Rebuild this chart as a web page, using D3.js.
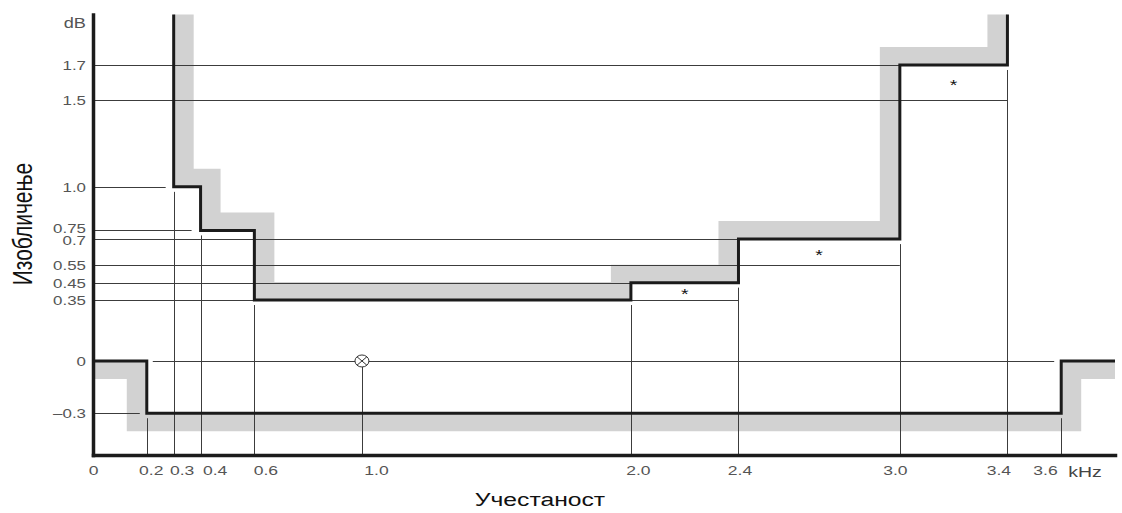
<!DOCTYPE html>
<html><head><meta charset="utf-8">
<script src="https://cdn.jsdelivr.net/npm/d3@7"></script>
<style>body{margin:0;background:#fff}svg text{font-family:"Liberation Sans",Arial,Helvetica,sans-serif}</style>
</head><body><svg id="c" width="1122" height="513"></svg>
<script>
// ---- data ----
const xTicks=[0,0.2,0.3,0.4,0.6,1.0,2.0,2.4,3.0,3.4,3.6];
const xTickLabels=["0","0.2","0.3","0.4","0.6","1.0","2.0","2.4","3.0","3.4","3.6"];
const yTicks=[1.7,1.5,1.0,0.75,0.7,0.55,0.45,0.35,0,-0.3];
const yTickLabels=["1.7","1.5","1.0","0.75","0.7","0.55","0.45","0.35","0","–0.3"];
const xDomain=[0,3.8];
const yDomain=[-0.54,1.99];
// upper mask (distortion limit above)
const upperEdges=[0.3,0.4,0.6,2.0,2.4,3.0,3.4];
const upperLevels=[1.0,0.75,0.35,0.45,0.7,1.7];
// lower mask
const lowerEdges=[0.2,3.6];
const lowerLevels=[0,-0.3,0];
// thin reference lines
const hLineLevels=[1.7,1.5,1.0,0.75,0.7,0.55,0.45,0.35,0,-0.3];
const hLineFrom=[0,0,0,0,0,0,0,0,0.2,0];
const hLineTo=[3.0,3.4,0.3,0.4,2.4,3.0,2.0,2.4,3.6,0.2];
const vLineFreqs=[0.2,0.3,0.4,0.6,1.0,2.0,2.4,3.0,3.4,3.6];
const vLineFrom=[-0.3,1.0,0.75,0.35,0,0.35,0.45,0.7,1.7,-0.3];
const refPoint=[1.0,0];
// boxes marked with *
const starFrom=[2.0,2.4,3.0], starTo=[2.4,3.0,3.4];
const starLow=[0.35,0.55,1.5], starHigh=[0.45,0.7,1.7];
const xTitle="Учестаност", yTitle="Изобличење", yUnit="dB", xUnit="kHz";

// ---- style ----
const SX=1.3, DX=20, DY=18;
const gray="#d2d2d2", ink="#1b1b1b", thin="#3c3c3c", lab="#555";
const hLineGapPx={"1":[0,8],"0.75":[0,9],"0":[6,7],"-0.3":[0,7]};
const yLabelNudge={"0.75":-2.5,"0.7":1};
const xLabelNudge={"0.2":4,"0.3":8,"0.4":14,"0.6":11,"1":14,"2":7,"2.4":1,"3":-5,"3.4":-9};

const svg=d3.select("#c");
const x=d3.scaleLinear().domain(xDomain).range([93,1115]);
const y=d3.scaleLinear().domain(yDomain).range([455,14.5]);
const yMax=yDomain[1];
const line=d3.line();

function mask(edges,levels,xs,xe,side){
  const oy=v=> v>=yMax ? y(yMax) : y(v)-side*DY;
  const L=levels;
  const pts=[[x(xs),y(L[0])]], off=[[x(xs),oy(L[0])]];
  edges.forEach((e,i)=>{
    const falling=L[i+1]<L[i];
    const ox=(falling?side:-side)*DX;
    pts.push([x(e),y(L[i])],[x(e),y(L[i+1])]);
    off.push([x(e)+ox,oy(L[i])],[x(e)+ox,oy(L[i+1])]);
  });
  pts.push([x(xe),y(L[L.length-1])]);
  off.push([x(xe),oy(L[L.length-1])]);
  return {pts, band: pts.concat(off.slice().reverse())};
}
const upper=mask(upperEdges,[yMax,...upperLevels,yMax],upperEdges[0],upperEdges[upperEdges.length-1],1);
const lower=mask(lowerEdges,lowerLevels,xDomain[0],xDomain[1],-1);

// gray bands
[upper,lower].forEach(m=>svg.append("path").attr("d",line(m.band)+"Z").attr("fill",gray));

// thin horizontal lines
const gH=svg.append("g").attr("stroke",thin).attr("stroke-width",1);
hLineLevels.forEach((v,i)=>{
  const g=hLineGapPx[String(v)]||[0,0];
  gH.append("line").attr("x1",x(hLineFrom[i])+g[0]).attr("x2",x(hLineTo[i])-g[1])
    .attr("y1",Math.round(y(v))+0.5).attr("y2",Math.round(y(v))+0.5);
});
// thin vertical lines
vLineFreqs.forEach((f,i)=>{
  const isRef=f===refPoint[0]&&vLineFrom[i]===refPoint[1];
  gH.append("line").attr("x1",Math.round(x(f))+0.5).attr("x2",Math.round(x(f))+0.5)
    .attr("y1",y(vLineFrom[i])+(isRef?6:5)).attr("y2",y(yDomain[0]));
});

// black mask lines
[upper,lower].forEach(m=>svg.append("path").attr("d",line(m.pts)).attr("fill","none")
  .attr("stroke",ink).attr("stroke-width",3).attr("stroke-linejoin","miter"));

// reference point marker
{
  const cx=x(refPoint[0]), cy=y(refPoint[1]), rx=7, ry=6;
  const g=svg.append("g").attr("stroke","#333").attr("stroke-width",1);
  g.append("ellipse").attr("cx",cx).attr("cy",cy).attr("rx",rx).attr("ry",ry).attr("fill","#fff");
  const a=rx*0.707, b=ry*0.707;
  g.append("line").attr("x1",cx-a).attr("y1",cy-b).attr("x2",cx+a).attr("y2",cy+b);
  g.append("line").attr("x1",cx-a).attr("y1",cy+b).attr("x2",cx+a).attr("y2",cy-b);
}

// stars
starFrom.forEach((f,i)=>{
  const cx=x((f+starTo[i])/2), cy=y((starLow[i]+starHigh[i])/2);
  svg.append("text").attr("transform",`translate(${cx},${cy+8}) scale(${SX},1)`)
    .attr("text-anchor","middle").attr("font-size",15).attr("fill","#111").text("*");
});

// axes
const gy=svg.append("g").attr("transform",`translate(${x(0)},0)`)
  .call(d3.axisLeft(y).tickValues(yTicks).tickSize(0).tickFormat(d=>yTickLabels[yTicks.indexOf(d)]));
gy.attr("font-family",null).attr("font-size",null);
gy.select(".domain").attr("stroke",ink).attr("stroke-width",3.5).attr("stroke-linecap","square");
gy.selectAll(".tick text").attr("x",0).attr("dy",null).attr("font-size",13).attr("fill",lab)
  .attr("transform",d=>`translate(-7,${4.6+(yLabelNudge[String(d)]||0)}) scale(${SX},1)`);

const gx=svg.append("g").attr("transform",`translate(0,${y(yDomain[0])})`)
  .call(d3.axisBottom(x).tickValues(xTicks).tickSize(0).tickFormat(d=>xTickLabels[xTicks.indexOf(d)]));
gx.attr("font-family",null).attr("font-size",null);
gx.select(".domain").attr("stroke",ink).attr("stroke-width",3.5).attr("stroke-linecap","square");
gx.selectAll(".tick text").attr("y",0).attr("dy",null).attr("font-size",13.5).attr("fill",lab)
  .attr("transform",d=>`translate(${xLabelNudge[String(d)]||0},20) scale(${SX},1)`)
  .filter((d,i,n)=>i===n.length-1).attr("text-anchor","end").attr("transform",`translate(-4,20) scale(${SX},1)`);

// units
svg.append("text").attr("transform",`translate(${x(0)-7},${y(yMax)+13}) scale(${SX},1)`)
  .attr("text-anchor","end").attr("font-size",14).attr("fill",lab).text(yUnit);
svg.append("text").attr("transform",`translate(${x(xTicks[xTicks.length-1])+7},${y(yDomain[0])+22}) scale(${SX},1)`)
  .attr("font-size",15).attr("fill","#444").text(xUnit);

// titles
svg.append("text").attr("transform",`translate(540,506) scale(${SX},1)`)
  .attr("text-anchor","middle").attr("font-size",19).attr("fill","#111").text(xTitle);
svg.append("text").attr("transform",`translate(32,224) scale(${SX},1) rotate(-90)`)
  .attr("text-anchor","middle").attr("font-size",21).attr("fill","#111").text(yTitle);
</script></body></html>
